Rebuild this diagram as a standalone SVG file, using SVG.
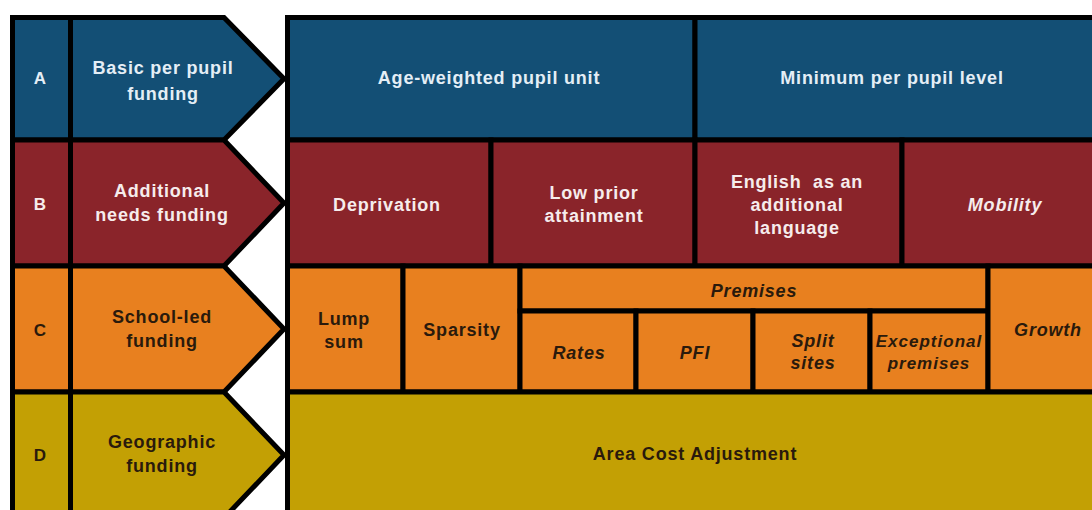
<svg xmlns="http://www.w3.org/2000/svg" width="1092" height="510" viewBox="0 0 1092 510">
<style>
  .cell{stroke:#000;stroke-width:5;stroke-linejoin:miter}
  .a{fill:#134F75}
  .b{fill:#8A242A}
  .c{fill:#E8801F}
  .d{fill:#C3A004}
  text{font-family:"Liberation Sans",Arial,sans-serif;font-weight:bold;font-size:18px;letter-spacing:0.8px;text-anchor:middle}
  .ta{fill:#E4EEF6}
  .tb{fill:#F6ECEC}
  .tc{fill:#2A1A0C}
  .it{font-style:italic}
  .let{font-size:17px;letter-spacing:0}
  .sm{font-size:17px;letter-spacing:1px}
</style>
<rect width="1092" height="510" fill="#fff"/>
<g id="rowA">
  <rect class="cell a" x="12.5" y="17.5" width="58" height="122.5"/>
  <polygon class="cell a" points="70.5,17.5 224,17.5 284,78.7 224,140 70.5,140"/>
  <text class="ta let" x="40" y="84">A</text>
  <text class="ta" x="163" y="74">Basic per pupil</text>
  <text class="ta" x="163" y="100">funding</text>
</g>
<g id="rowB">
  <rect class="cell b" x="12.5" y="140" width="58" height="126"/>
  <polygon class="cell b" points="70.5,140 224,140 284,203 224,266 70.5,266"/>
  <text class="tb let" x="40" y="210">B</text>
  <text class="tb" x="162" y="197">Additional</text>
  <text class="tb" x="162" y="221">needs funding</text>
</g>
<g id="rowC">
  <rect class="cell c" x="12.5" y="266" width="58" height="126"/>
  <polygon class="cell c" points="70.5,266 224,266 284,329 224,392 70.5,392"/>
  <text class="tc let" x="40" y="336">C</text>
  <text class="tc" x="162" y="323">School-led</text>
  <text class="tc" x="162" y="347">funding</text>
</g>
<g id="rowD">
  <rect class="cell d" x="12.5" y="392" width="58" height="130"/>
  <polygon class="cell d" points="70.5,392 224,392 284,455 224,518 70.5,518"/>
  <text class="tc let" x="40" y="461">D</text>
  <text class="tc" x="162" y="448">Geographic</text>
  <text class="tc" x="162" y="472">funding</text>
</g>
<g id="ageWeighted">
  <rect class="cell a" x="287.5" y="17.5" width="407.5" height="122.5"/>
  <text class="ta" x="489" y="84">Age-weighted pupil unit</text>
</g>
<g id="minimum">
  <rect class="cell a" x="695" y="17.5" width="410" height="122.5"/>
  <text class="ta" x="892" y="84">Minimum per pupil level</text>
</g>
<g id="deprivation">
  <rect class="cell b" x="287.5" y="140" width="203.5" height="126"/>
  <text class="tb" x="387" y="211">Deprivation</text>
</g>
<g id="lowPrior">
  <rect class="cell b" x="491" y="140" width="204" height="126"/>
  <text class="tb" x="594" y="199">Low prior</text>
  <text class="tb" x="594" y="222">attainment</text>
</g>
<g id="eal">
  <rect class="cell b" x="695" y="140" width="207" height="126"/>
  <text class="tb" x="797" y="188" xml:space="preserve">English  as an</text>
  <text class="tb" x="797" y="211">additional</text>
  <text class="tb" x="797" y="234">language</text>
</g>
<g id="mobility">
  <rect class="cell b" x="902" y="140" width="200" height="126"/>
  <text class="tb it" x="1005" y="211">Mobility</text>
</g>
<g id="lumpSum">
  <rect class="cell c" x="287.5" y="266" width="115.5" height="126"/>
  <text class="tc" x="344" y="325">Lump</text>
  <text class="tc" x="344" y="348">sum</text>
</g>
<g id="sparsity">
  <rect class="cell c" x="403" y="266" width="117" height="126"/>
  <text class="tc" x="462" y="336">Sparsity</text>
</g>
<g id="premises">
  <rect class="cell c" x="520" y="266" width="468" height="45"/>
  <text class="tc it" x="754" y="297">Premises</text>
</g>
<g id="rates">
  <rect class="cell c" x="520" y="311" width="116" height="81"/>
  <text class="tc it" x="579" y="359">Rates</text>
</g>
<g id="pfi">
  <rect class="cell c" x="636" y="311" width="117" height="81"/>
  <text class="tc it" x="695" y="359">PFI</text>
</g>
<g id="splitSites">
  <rect class="cell c" x="753" y="311" width="117" height="81"/>
  <text class="tc it" x="813" y="347">Split</text>
  <text class="tc it" x="813" y="369">sites</text>
</g>
<g id="exceptional">
  <rect class="cell c" x="870" y="311" width="118" height="81"/>
  <text class="tc it sm" x="929" y="347">Exceptional</text>
  <text class="tc it sm" x="929" y="369">premises</text>
</g>
<g id="growth">
  <rect class="cell c" x="988" y="266" width="114" height="126"/>
  <text class="tc it" x="1048" y="336">Growth</text>
</g>
<g id="areaCost">
  <rect class="cell d" x="287.5" y="392" width="815" height="130"/>
  <text class="tc" x="695" y="460">Area Cost Adjustment</text>
</g>
<g id="connectors"></g>
</svg>
